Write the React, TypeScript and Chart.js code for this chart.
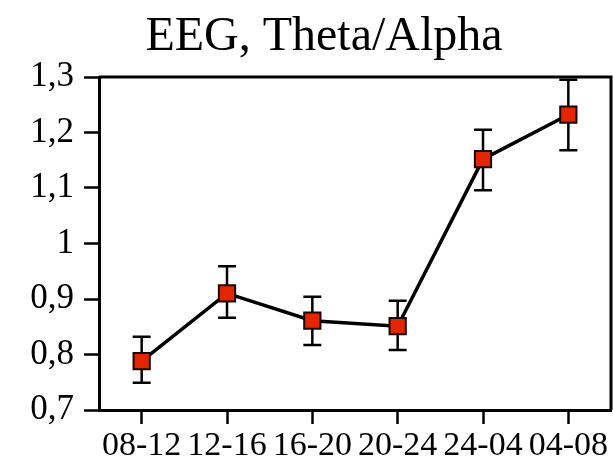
import React, { useEffect, useRef } from "react";
import { Chart, registerables } from "chart.js";

Chart.register(...registerables);

// Recording windows (hours of day)
const periods: string[] = ["08-12", "12-16", "16-20", "20-24", "24-04", "04-08"];
// Mean theta/alpha ratio per window
const ratioMean: number[] = [0.788, 0.91, 0.861, 0.851, 1.152, 1.232];
// Upper and lower ends of the error bars
const ratioUpper: number[] = [0.832, 0.959, 0.904, 0.897, 1.205, 1.295];
const ratioLower: number[] = [0.749, 0.866, 0.817, 0.808, 1.096, 1.168];
// Value axis ticks
const yTicks: number[] = [0.7, 0.8, 0.9, 1.0, 1.1, 1.2, 1.3];

const TITLE = "EEG, Theta/Alpha";
const SERIF = "'Liberation Serif', 'Times New Roman', Times, serif";

const errorBars = {
  id: "errorBars",
  beforeDatasetsDraw(chart: any) {
    const { ctx, scales } = chart;
    const xs = scales.x;
    const ys = scales.y;
    ctx.save();
    ctx.strokeStyle = "#000";
    ctx.lineWidth = 2.5;
    const cap = 9;
    periods.forEach((_, i) => {
      const x = xs.getPixelForValue(i);
      const yHi = ys.getPixelForValue(ratioUpper[i]);
      const yLo = ys.getPixelForValue(ratioLower[i]);
      ctx.beginPath();
      ctx.moveTo(x, yHi);
      ctx.lineTo(x, yLo);
      ctx.moveTo(x - cap, yHi);
      ctx.lineTo(x + cap, yHi);
      ctx.moveTo(x - cap, yLo);
      ctx.lineTo(x + cap, yLo);
      ctx.stroke();
    });
    ctx.restore();
  },
};

const frameAndTitle = {
  id: "frameAndTitle",
  afterDraw(chart: any) {
    const { ctx, chartArea } = chart;
    ctx.save();
    ctx.strokeStyle = "#000";
    ctx.lineWidth = 3;
    ctx.beginPath();
    ctx.moveTo(chartArea.left, chartArea.top);
    ctx.lineTo(chartArea.right, chartArea.top);
    ctx.lineTo(chartArea.right, chartArea.bottom);
    ctx.stroke();
    ctx.fillStyle = "#000";
    ctx.font = `48px ${SERIF}`;
    ctx.textAlign = "center";
    ctx.textBaseline = "alphabetic";
    ctx.fillText(TITLE, 324, 50);
    ctx.restore();
  },
};

export default function App() {
  const canvasRef = useRef<HTMLCanvasElement | null>(null);

  useEffect(() => {
    if (!canvasRef.current) return;
    const chart = new Chart(canvasRef.current, {
      type: "line",
      data: {
        labels: periods,
        datasets: [
          {
            data: ratioMean,
            borderColor: "#000",
            borderWidth: 3.5,
            pointStyle: "rect",
            pointRadius: 11.5,
            pointHoverRadius: 11.5,
            pointBackgroundColor: "#e42600",
            pointBorderColor: "#1a0600",
            pointBorderWidth: 2,
            tension: 0,
          },
        ],
      },
      options: {
        responsive: false,
        animation: false,
        events: [],
        layout: {
          autoPadding: false,
          padding: { left: 0, top: 77, right: 2, bottom: 0 },
        },
        plugins: {
          legend: { display: false },
          title: { display: false },
          tooltip: { enabled: false },
        },
        scales: {
          x: {
            type: "category",
            offset: true,
            afterFit: (s: any) => {
              s.height = 49;
              s.paddingLeft = 0;
              s.paddingRight = 0;
            },
            grid: {
              offset: false,
              drawOnChartArea: false,
              drawTicks: true,
              tickLength: 14,
              tickWidth: 2.5,
              tickColor: "#000",
            },
            border: { display: true, color: "#000", width: 3 },
            ticks: {
              color: "#000",
              font: { family: SERIF, size: 34 },
              padding: 2,
              maxRotation: 0,
              autoSkip: false,
            },
          },
          y: {
            min: yTicks[0],
            max: yTicks[yTicks.length - 1],
            afterFit: (s: any) => {
              s.width = 99;
              s.paddingTop = 0;
              s.paddingBottom = 0;
            },
            afterBuildTicks: (s: any) => {
              s.ticks = yTicks.map((v) => ({ value: v }));
            },
            grid: {
              drawOnChartArea: false,
              drawTicks: true,
              tickLength: 15,
              tickWidth: 2.5,
              tickColor: "#000",
            },
            border: { display: true, color: "#000", width: 3 },
            ticks: {
              color: "#000",
              font: { family: SERIF, size: 35 },
              padding: 10,
              callback: (v: any) =>
                String(Math.round(Number(v) * 10) / 10).replace(".", ","),
            },
          },
        },
      },
      plugins: [errorBars, frameAndTitle],
    });
    return () => chart.destroy();
  }, []);

  return (
    <div
      style={{
        position: "fixed",
        left: 0,
        top: 0,
        width: 613,
        height: 459,
        background: "#fff",
      }}
    >
      <canvas ref={canvasRef} width={613} height={459} />
    </div>
  );
}
